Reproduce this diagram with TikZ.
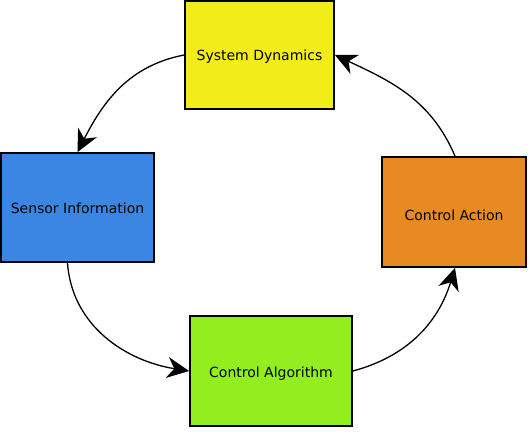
\documentclass[tikz,border=0pt]{standalone}
\usepackage{fontspec}
\setmainfont{DejaVu Sans}
\usepackage{xcolor}
\usepackage{tikz}
\usetikzlibrary{arrows.meta}
\definecolor{sysyellow}{HTML}{F2EC18}
\definecolor{sensblue}{HTML}{3A86E2}
\definecolor{actorange}{HTML}{E88A22}
\definecolor{alggreen}{HTML}{92EE1E}

\begin{document}
\begin{tikzpicture}[x=1pt, y=1pt,
    loopbox/.style={draw=black, line width=1.8pt, text height=14pt, text depth=2pt,
      font=\fontsize{14}{16}\selectfont},
    loopline/.style={line width=1.3pt, -{Stealth[length=22pt, width=21pt, inset=7pt]}}]
    \useasboundingbox (0,0) rectangle (529,431);
    \node[loopbox, fill=sysyellow, minimum width=149pt, minimum height=108pt] (dyn) at (259.5,376) {System Dynamics};
    \node[loopbox, fill=sensblue, minimum width=153pt, minimum height=109pt] (sens) at (77.5,223.5) {Sensor Information};
    \node[loopbox, fill=actorange, minimum width=144pt, minimum height=110pt,
          text height=17pt, text depth=0pt] (act) at (454,219) {Control Action};
    \node[loopbox, fill=alggreen, minimum width=162pt, minimum height=110pt] (alg) at (271,60) {Control Algorithm};

    \draw[loopline] (dyn.west) to[out=191, in=63] (sens.north);
    \draw[loopline] ([xshift=-10pt]sens.south) to[out=274, in=171] (alg.west);
    \draw[loopline] (alg.east) to[out=15, in=253] ([xshift=1pt]act.south);
    \draw[loopline] ([xshift=1pt]act.north) to[out=113, in=-25] (dyn.east);
  \end{tikzpicture}
\end{document}
